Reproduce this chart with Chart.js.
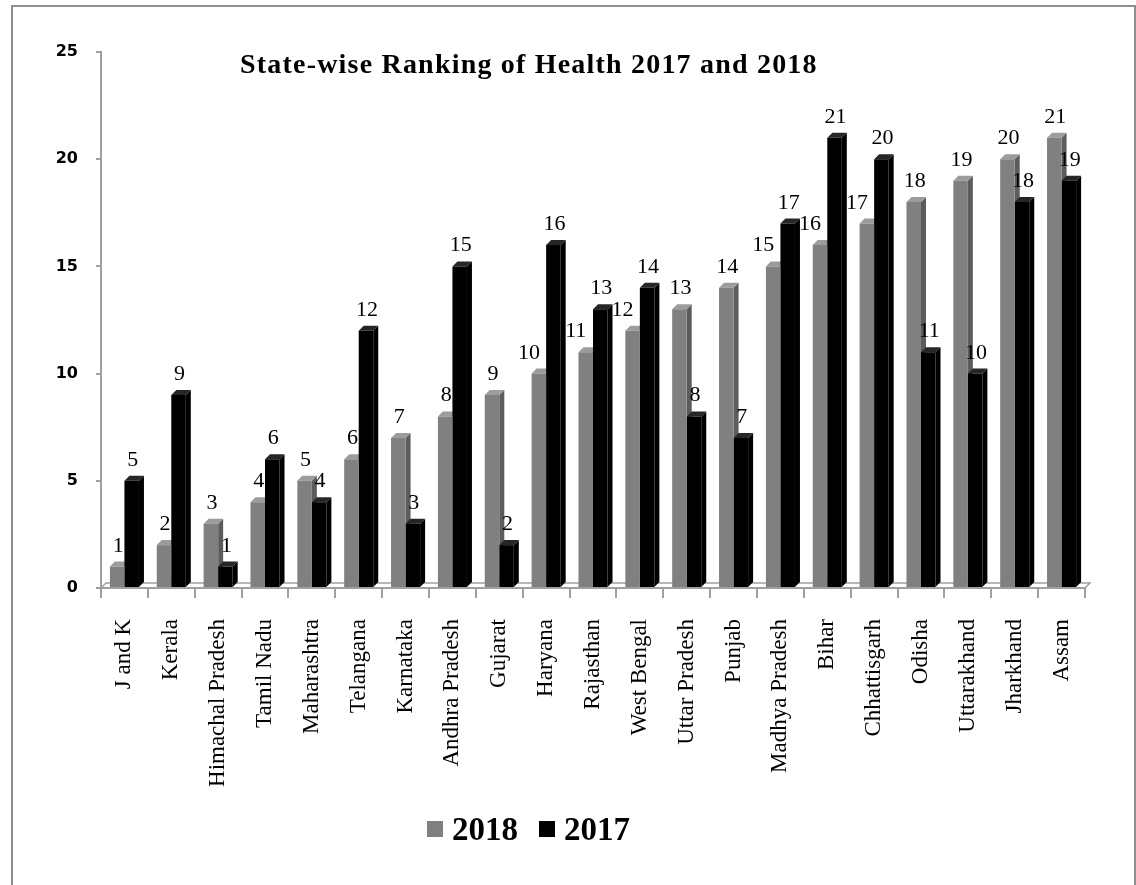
<!DOCTYPE html>
<html>
<head>
<meta charset="utf-8">
<title>State-wise Ranking of Health 2017 and 2018</title>
<script src="https://cdn.jsdelivr.net/npm/chart.js@4.4.0/dist/chart.umd.min.js"></script>
<style>
  html, body { margin: 0; padding: 0; background: #fff; overflow: hidden; }
  #frame { position: absolute; left: 11px; top: 5px; width: 1121px; height: 900px; border: 2px solid #8e8e8e; }
  #wrap { position: absolute; left: 0; top: 0; width: 1136px; height: 885px; }
</style>
</head>
<body>
<div id="frame"></div>
<div id="wrap"><canvas id="rankChart"></canvas></div>
<script>
// données
const states = ['J and K', 'Kerala', 'Himachal Pradesh', 'Tamil Nadu', 'Maharashtra', 'Telangana',
    'Karnataka', 'Andhra Pradesh', 'Gujarat', 'Haryana', 'Rajasthan', 'West Bengal', 'Uttar Pradesh',
    'Punjab', 'Madhya Pradesh', 'Bihar', 'Chhattisgarh', 'Odisha', 'Uttarakhand', 'Jharkhand', 'Assam'];
const rank2018 = [1, 2, 3, 4, 5, 6, 7, 8, 9, 10, 11, 12, 13, 14, 15, 16, 17, 18, 19, 20, 21];
const rank2017 = [5, 9, 1, 6, 4, 12, 3, 15, 2, 16, 13, 14, 8, 7, 17, 21, 20, 11, 10, 18, 19];
const seriesNames = ['2018', '2017'];
const yMax = 25;
const yStep = 5;
const chartTitle = 'State-wise Ranking of Health 2017 and 2018';

const DEPTH = 5;
const faceColors = {
    '#808080': { side: '#5c5c5c', top: '#9c9c9c' },
    '#000000': { side: '#000000', top: '#262626' }
};

// faces 3D (dessus + côté) + sol
const bars3d = {
    id: 'bars3d',
    beforeDatasetsDraw(chart) {
        const ctx = chart.ctx;
        const area = chart.chartArea;
        ctx.save();
        // sol
        ctx.strokeStyle = '#a0a0a0';
        ctx.lineWidth = 1.5;
        ctx.beginPath();
        ctx.moveTo(area.left, area.bottom);
        ctx.lineTo(area.left + DEPTH, area.bottom - DEPTH);
        ctx.lineTo(area.right + DEPTH, area.bottom - DEPTH);
        ctx.lineTo(area.right, area.bottom);
        ctx.stroke();
        chart.data.datasets.forEach((ds, i) => {
            const meta = chart.getDatasetMeta(i);
            const c = faceColors[ds.backgroundColor];
            meta.data.forEach(bar => {
                const p = bar.getProps(['x', 'y', 'base', 'width'], true);
                const l = p.x - p.width / 2, r = p.x + p.width / 2;
                ctx.fillStyle = c.side;
                ctx.beginPath();
                ctx.moveTo(r, p.y);
                ctx.lineTo(r + DEPTH, p.y - DEPTH);
                ctx.lineTo(r + DEPTH, p.base - DEPTH);
                ctx.lineTo(r, p.base);
                ctx.closePath();
                ctx.fill();
                ctx.fillStyle = c.top;
                ctx.beginPath();
                ctx.moveTo(l, p.y);
                ctx.lineTo(l + DEPTH, p.y - DEPTH);
                ctx.lineTo(r + DEPTH, p.y - DEPTH);
                ctx.lineTo(r, p.y);
                ctx.closePath();
                ctx.fill();
            });
        });
        ctx.restore();
    },
    afterDatasetsDraw(chart) {
        const ctx = chart.ctx;
        const ds = chart.data.datasets;
        ctx.save();
        ctx.font = '22px "Liberation Serif"';
        ctx.fillStyle = '#000';
        ctx.textAlign = 'center';
        ctx.textBaseline = 'alphabetic';
        ds.forEach((set, i) => {
            chart.getDatasetMeta(i).data.forEach((bar, j) => {
                const txt = String(set.data[j]);
                let dx = 1;
                // étiquette grise décalée à gauche quand la barre noire est plus haute
                if (i === 0 && ds[1].data[j] > set.data[j] && txt.length > 1) dx = -10;
                ctx.fillText(txt, bar.x + dx, bar.y - 15);
            });
        });
        ctx.restore();
    },
    afterDraw(chart) {
        const ctx = chart.ctx;
        ctx.save();
        // titre
        ctx.fillStyle = '#000';
        ctx.font = 'bold 28px "Liberation Serif"';
        ctx.letterSpacing = '1.2px';
        ctx.textAlign = 'left';
        ctx.textBaseline = 'alphabetic';
        ctx.fillText(chartTitle, 240, 73);
        // légende
        ctx.font = 'bold 33px "Liberation Serif"';
        ctx.letterSpacing = '0px';
        let x = 427;
        chart.data.datasets.forEach(ds => {
            ctx.fillStyle = ds.backgroundColor;
            ctx.fillRect(x, 821, 16, 16);
            x += 25;
            ctx.fillStyle = '#000';
            ctx.fillText(ds.label, x, 840);
            x += ctx.measureText(ds.label).width + 21;
        });
        ctx.restore();
    }
};

new Chart(document.getElementById('rankChart'), {
    type: 'bar',
    data: {
        labels: states,
        datasets: [{
            label: seriesNames[0],
            data: rank2018,
            backgroundColor: '#808080'
        }, {
            label: seriesNames[1],
            data: rank2017,
            backgroundColor: '#000000'
        }]
    },
    options: {
        responsive: true,
        maintainAspectRatio: false,
        animation: false,
        categoryPercentage: 0.62,
        barPercentage: 1.0,
        layout: { padding: { left: 40, right: 51, top: 52, bottom: 97 } },
        plugins: {
            legend: { display: false },
            title: { display: false },
            tooltip: { enabled: false }
        },
        scales: {
            x: {
                grid: { drawOnChartArea: false, offset: true, tickLength: 10, color: '#a0a0a0', lineWidth: 2 },
                border: { display: true, color: '#a0a0a0', width: 2 },
                ticks: {
                    autoSkip: false, minRotation: 90, maxRotation: 90, padding: 21,
                    color: '#000', font: { family: 'Liberation Serif', size: 23 }
                },
                afterFit(scale) { scale.height = 200; }
            },
            y: {
                min: 0, max: yMax,
                grid: { drawOnChartArea: false, tickLength: 5, color: '#a0a0a0', lineWidth: 2 },
                border: { display: true, color: '#a0a0a0', width: 2 },
                ticks: {
                    stepSize: yStep, padding: 18, color: '#000',
                    font: { family: 'DejaVu Sans', size: 16, weight: 'bold' }
                },
                afterFit(scale) { scale.width = 61; }
            }
        }
    },
    plugins: [bars3d]
});
</script>
</body>
</html>
